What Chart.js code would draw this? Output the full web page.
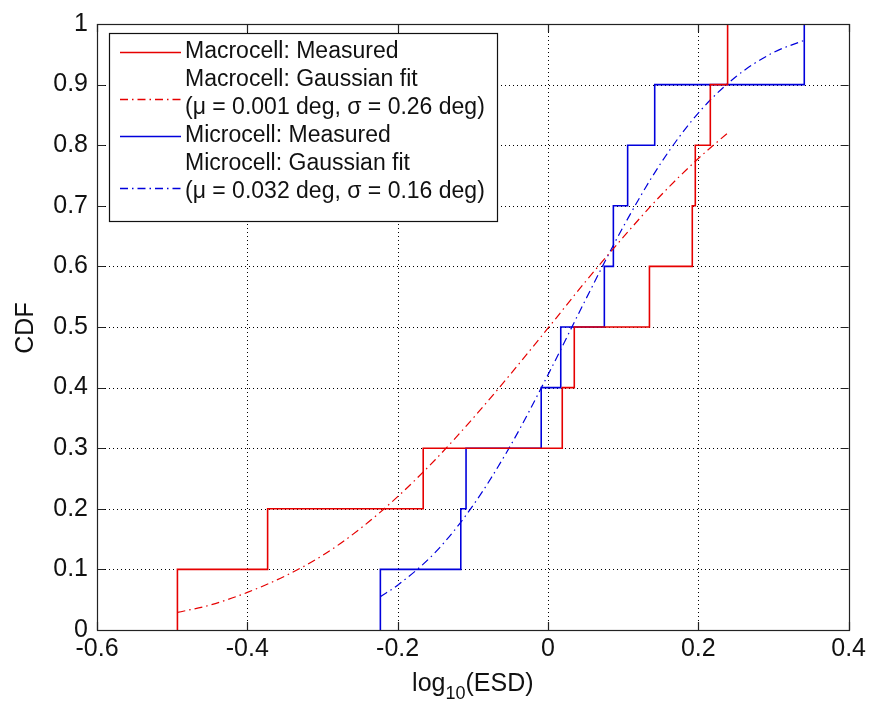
<!DOCTYPE html>
<html>
<head>
<meta charset="utf-8">
<script src="https://cdn.jsdelivr.net/npm/chart.js@4.4.1/dist/chart.umd.min.js"></script>
<style>
  html, body { margin: 0; padding: 0; background: #ffffff; }
  #wrap { width: 870px; height: 706px; }
</style>
</head>
<body>
<div id="wrap"><canvas id="c" width="870" height="706"></canvas></div>
<script>
// ---- data ----
const cdfLevels = [0, 0.1, 0.2, 0.3, 0.4, 0.5, 0.6, 0.7, 0.8, 0.9, 1.0];
const macroMeasuredX = [-0.493, -0.493, -0.373, -0.166, 0.019, 0.035, 0.135, 0.192, 0.196, 0.216, 0.239];
const microMeasuredX = [-0.223, -0.223, -0.116, -0.109, -0.009, 0.017, 0.075, 0.087, 0.106, 0.142, 0.341];

const macroFitX = [-0.493, -0.45, -0.40, -0.35, -0.30, -0.25, -0.20, -0.15, -0.10, -0.05, 0.00, 0.05, 0.10, 0.15, 0.20, 0.239];
const macroFitY = [0.029, 0.041, 0.062, 0.089, 0.123, 0.167, 0.220, 0.281, 0.349, 0.422, 0.498, 0.575, 0.648, 0.717, 0.778, 0.820];
const microFitX = [-0.223, -0.20, -0.15, -0.10, -0.05, 0.00, 0.05, 0.10, 0.15, 0.20, 0.25, 0.30, 0.341];
const microFitY = [0.055, 0.074, 0.128, 0.205, 0.304, 0.421, 0.545, 0.665, 0.770, 0.853, 0.913, 0.953, 0.973];

const xTicks = [-0.6, -0.4, -0.2, 0, 0.2, 0.4];
const yTicks = [0, 0.1, 0.2, 0.3, 0.4, 0.5, 0.6, 0.7, 0.8, 0.9, 1];

const RED = "rgb(230,0,0)";
const BLUE = "rgb(0,0,220)";
const DASHDOT = [8, 4, 1.5, 4];
const FONT = "'Liberation Sans', Arial, Helvetica, sans-serif";

const legendLines = [
  { text: ["Macrocell: Measured"], color: RED, dash: [], off: 0 },
  { text: ["Macrocell: Gaussian fit", "(\u03bc = 0.001 deg, \u03c3 = 0.26 deg)"], color: RED, dash: DASHDOT, off: 19 },
  { text: ["Microcell: Measured"], color: BLUE, dash: [], off: 0 },
  { text: ["Microcell: Gaussian fit", "(\u03bc = 0.032 deg, \u03c3 = 0.16 deg)"], color: BLUE, dash: DASHDOT, off: 24 }
];

function pts(xs, ys) { return xs.map((x, i) => ({ x: x, y: ys[i] })); }

const framePlugin = {
  id: 'frame',
  beforeDatasetsDraw(chart) {
    const { ctx, chartArea: a, scales: { x, y } } = chart;
    ctx.save();
    ctx.strokeStyle = '#000';
    ctx.lineWidth = 1;
    ctx.setLineDash([1, 3]);
    xTicks.forEach(v => {
      if (v === xTicks[0] || v === xTicks[xTicks.length - 1]) return;
      const px = Math.round(x.getPixelForValue(v)) + 0.5;
      ctx.beginPath(); ctx.moveTo(px, a.top); ctx.lineTo(px, a.bottom); ctx.stroke();
    });
    yTicks.forEach(v => {
      if (v === yTicks[0] || v === yTicks[yTicks.length - 1]) return;
      const py = Math.round(y.getPixelForValue(v)) + 0.5;
      ctx.beginPath(); ctx.moveTo(a.left, py); ctx.lineTo(a.right, py); ctx.stroke();
    });
    ctx.restore();
  },
  afterDatasetsDraw(chart) {
    const { ctx, chartArea: a, scales: { x, y } } = chart;
    ctx.save();
    // box
    ctx.strokeStyle = '#222';
    ctx.lineWidth = 1.2;
    ctx.setLineDash([]);
    ctx.strokeRect(Math.round(a.left) + 0.5, Math.round(a.top) + 0.5, Math.round(a.right - a.left), Math.round(a.bottom - a.top));
    // inward ticks
    const tl = 8;
    xTicks.forEach(v => {
      const px = Math.round(x.getPixelForValue(v)) + 0.5;
      ctx.beginPath();
      ctx.moveTo(px, a.bottom); ctx.lineTo(px, a.bottom - tl);
      ctx.moveTo(px, a.top); ctx.lineTo(px, a.top + tl);
      ctx.stroke();
    });
    yTicks.forEach(v => {
      const py = Math.round(y.getPixelForValue(v)) + 0.5;
      ctx.beginPath();
      ctx.moveTo(a.left, py); ctx.lineTo(a.left + tl, py);
      ctx.moveTo(a.right, py); ctx.lineTo(a.right - tl, py);
      ctx.stroke();
    });

    // legend
    const lx = 109, ly = 33, lw = 388, lh = 188;
    ctx.fillStyle = '#fff';
    ctx.fillRect(lx, ly, lw, lh);
    ctx.strokeStyle = '#111';
    ctx.lineWidth = 1.2;
    ctx.strokeRect(lx + 0.5, ly + 0.5, lw, lh);
    ctx.font = "23px " + FONT;
    ctx.textBaseline = 'middle';
    ctx.textAlign = 'left';
    let row = 0;
    const rowH = 28, firstY = 51.5;
    legendLines.forEach(item => {
      const y0 = firstY + row * rowH;
      const sampleY = y0 + item.off;
      ctx.strokeStyle = item.color;
      ctx.lineWidth = 1.5;
      ctx.setLineDash(item.dash);
      ctx.beginPath(); ctx.moveTo(120, Math.round(sampleY) + 0.5); ctx.lineTo(181, Math.round(sampleY) + 0.5); ctx.stroke();
      ctx.setLineDash([]);
      ctx.fillStyle = '#111';
      item.text.forEach((t, k) => { ctx.fillText(t, 185, y0 + k * rowH); });
      row += item.text.length;
    });

    // axis titles
    ctx.fillStyle = '#111';
    ctx.font = "25px " + FONT;
    ctx.textBaseline = 'middle';
    ctx.save();
    ctx.translate(26, (a.top + a.bottom) / 2 + 1);
    ctx.rotate(-Math.PI / 2);
    ctx.textAlign = 'center';
    ctx.fillText('CDF', 0, 0);
    ctx.restore();
    const cx = (a.left + a.right) / 2;
    const ty = 684;
    const p1 = 'log', p2 = '10', p3 = '(ESD)';
    ctx.font = "25px " + FONT;
    const w1 = ctx.measureText(p1).width, w3 = ctx.measureText(p3).width;
    ctx.font = "18px " + FONT;
    const w2 = ctx.measureText(p2).width;
    let sx = cx - (w1 + w2 + w3) / 2;
    ctx.textAlign = 'left';
    ctx.font = "25px " + FONT;
    ctx.fillText(p1, sx, ty);
    ctx.font = "18px " + FONT;
    ctx.fillText(p2, sx + w1, ty + 10);
    ctx.font = "25px " + FONT;
    ctx.fillText(p3, sx + w1 + w2, ty);
    ctx.restore();
  }
};

new Chart(document.getElementById('c'), {
  type: 'scatter',
  data: {
    datasets: [
      { label: 'Macrocell: Measured', data: pts(macroMeasuredX, cdfLevels), showLine: true, stepped: true,
        borderColor: RED, borderWidth: 1.6, pointRadius: 0, fill: false },
      { label: 'Macrocell: Gaussian fit', data: pts(macroFitX, macroFitY), showLine: true, cubicInterpolationMode: 'monotone',
        borderColor: RED, borderWidth: 1.2, borderDash: DASHDOT, pointRadius: 0, fill: false },
      { label: 'Microcell: Measured', data: pts(microMeasuredX, cdfLevels), showLine: true, stepped: true,
        borderColor: BLUE, borderWidth: 1.6, pointRadius: 0, fill: false },
      { label: 'Microcell: Gaussian fit', data: pts(microFitX, microFitY), showLine: true, cubicInterpolationMode: 'monotone',
        borderColor: BLUE, borderWidth: 1.2, borderDash: DASHDOT, pointRadius: 0, fill: false }
    ]
  },
  options: {
    responsive: false,
    devicePixelRatio: 1,
    animation: false,
    layout: { padding: { left: 0, right: 20, top: 19, bottom: 0 } },
    plugins: { legend: { display: false }, tooltip: { enabled: false } },
    scales: {
      x: {
        type: 'linear', min: -0.6, max: 0.4,
        afterFit: s => { s.height = 76; },
        afterBuildTicks: s => { s.ticks = xTicks.map(v => ({ value: v })); },
        grid: { display: false, drawTicks: false },
        border: { display: false },
        ticks: { color: '#111', font: { family: FONT, size: 25 }, padding: 4, maxRotation: 0,
                 callback: v => String(v) }
      },
      y: {
        type: 'linear', min: 0, max: 1,
        afterFit: s => { s.width = 97; },
        afterBuildTicks: s => { s.ticks = yTicks.map(v => ({ value: v })); },
        grid: { display: false, drawTicks: false },
        border: { display: false },
        ticks: { color: '#111', font: { family: FONT, size: 25 }, padding: 9,
                 callback: v => String(v) }
      }
    }
  },
  plugins: [framePlugin]
});
</script>
</body>
</html>
